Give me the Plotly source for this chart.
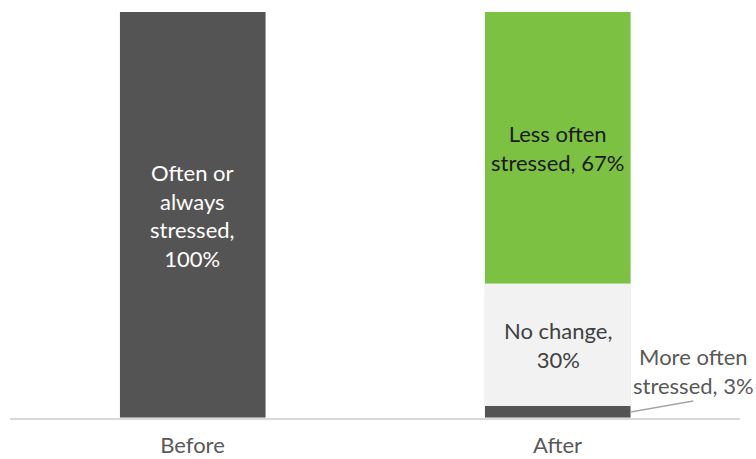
import plotly.graph_objects as go

# Stress levels before and after, stacked to 100%
categories = ["Before", "After"]
series_names = ["More often stressed", "No change", "Less often stressed", "Often or always stressed"]
after_values = [3, 30, 67]
before_values = [100]

dark = "#545454"
light = "#F2F2F2"
green = "#7DC142"
font_family = "Lato, Calibri, Arial, sans-serif"
bar_width = 0.4

fig = go.Figure()

# Before: a single full bar
fig.add_trace(go.Bar(x=[categories[0]], y=before_values, marker_color=dark,
                     width=bar_width, name=series_names[3], hoverinfo="y+name"))

# After: three stacked segments
after_colors = [dark, light, green]
for name, val, col in zip(series_names[:3], after_values, after_colors):
    fig.add_trace(go.Bar(x=[categories[1]], y=[val], marker_color=col,
                         width=bar_width, name=name, hoverinfo="y+name"))

annotations = []

# Label inside the Before bar
annotations.append(dict(
    x=categories[0], y=before_values[0] / 2, xref="x", yref="y",
    text=f"Often or<br>always<br>stressed,<br>{before_values[0]}%",
    showarrow=False, font=dict(family=font_family, size=22, color="#FFFFFF")))

# Labels for the After segments
bottoms = [0, after_values[0], after_values[0] + after_values[1]]
mids = [b + v / 2 for b, v in zip(bottoms, after_values)]

annotations.append(dict(
    x=categories[1], y=mids[2], xref="x", yref="y",
    text=f"Less often<br>stressed, {after_values[2]}%",
    showarrow=False, font=dict(family=font_family, size=22, color="#1A1A1A")))
annotations.append(dict(
    x=categories[1], y=mids[1], xref="x", yref="y",
    text=f"No change,<br>{after_values[1]}%",
    showarrow=False, font=dict(family=font_family, size=22, color="#404040")))

# Small segment: label placed outside with a leader line
label_x, label_y = 1.372, 11.6
annotations.append(dict(
    x=label_x, y=label_y, xref="x", yref="y",
    text=f"More often<br>stressed, {after_values[0]}%",
    showarrow=False, xanchor="center", yanchor="middle",
    font=dict(family=font_family, size=22, color="#595959")))

fig.add_shape(type="line", xref="x", yref="y",
              x0=1 + bar_width / 2, y0=mids[0], x1=label_x, y1=4.2,
              line=dict(color="#A6A6A6", width=1.5))

fig.update_layout(
    barmode="stack",
    width=756, height=459,
    margin=dict(l=10, r=16, t=12, b=41),
    paper_bgcolor="white", plot_bgcolor="white",
    showlegend=False,
    annotations=annotations,
    bargap=0,
)
fig.update_xaxes(
    type="category", range=[-0.5, 1.5], automargin=False,
    showline=True, linecolor="#D9D9D9", linewidth=1.5,
    ticks="", tickfont=dict(family=font_family, size=22, color="#595959"),
    ticklabelstandoff=7,
)
fig.update_yaxes(range=[0, 100], showgrid=False, zeroline=False,
                 showticklabels=False, showline=False, automargin=False)

fig.write_html("out.html")
